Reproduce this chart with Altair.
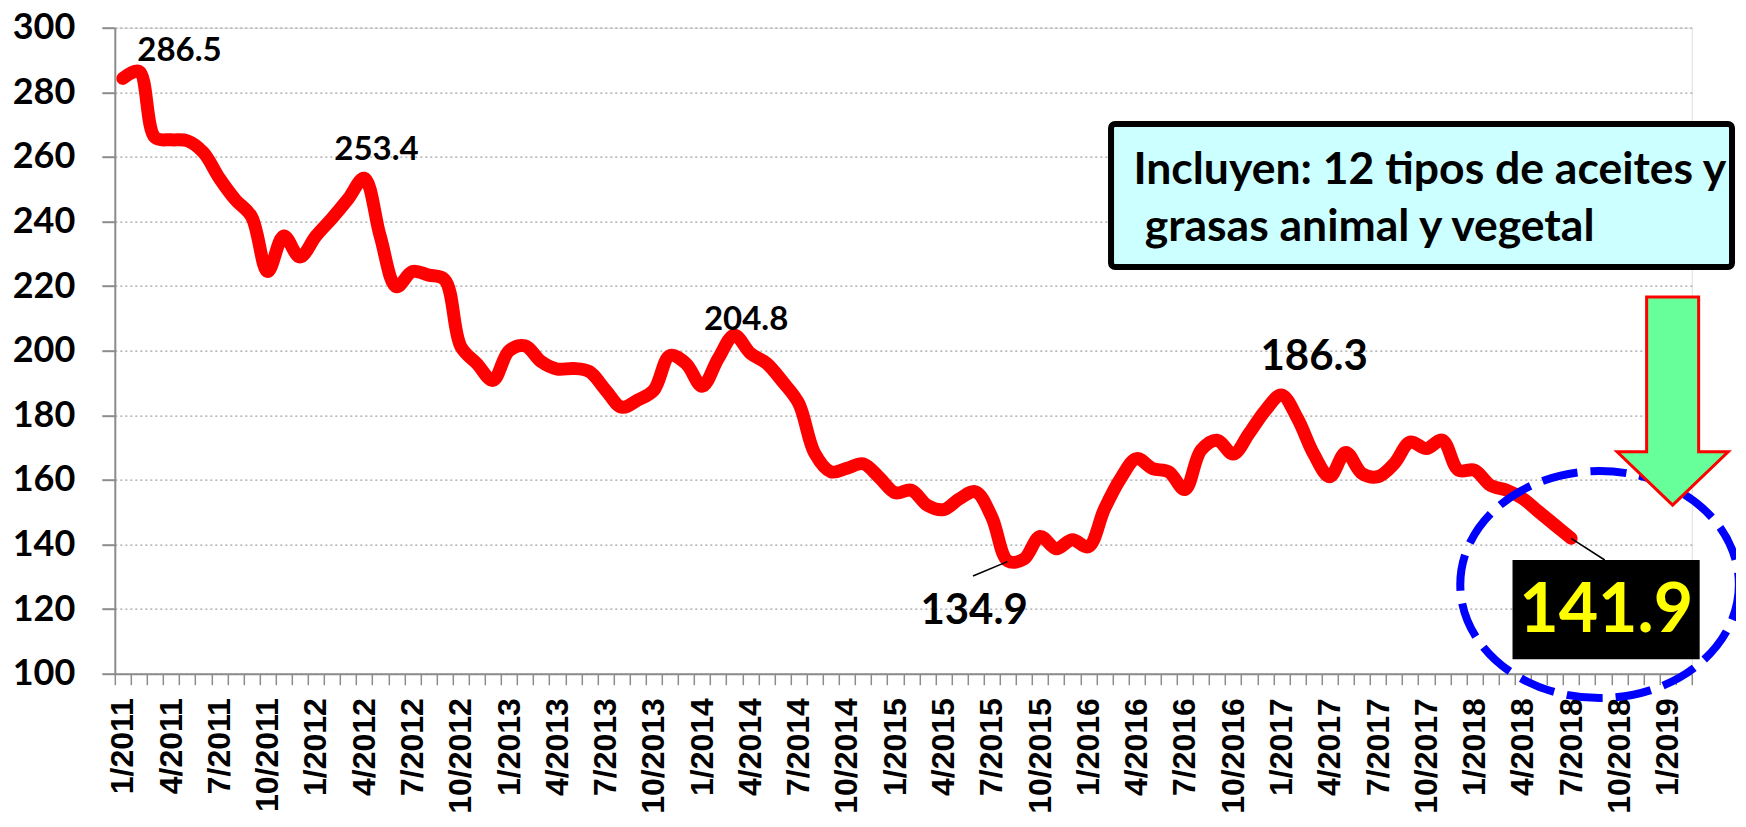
import altair as alt
import pandas as pd

# ---------------- datos ----------------
anios = list(range(2011, 2020))
meses = [f"{m}/{a}" for a in anios for m in range(1, 13)][:98]   # 1/2011 ... 2/2019

valores = [
    284.3, 286.5, 266.0, 265.3, 265.0, 261.4, 253.4, 246.7, 241.5, 224.5, 235.5, 229.0,   # 2011
    235.5, 241.0, 247.0, 253.4, 235.3, 219.8, 224.5, 223.4, 222.0, 201.3, 196.0, 190.8,   # 2012
    200.0, 201.5, 196.6, 194.3, 194.5, 193.5, 187.8, 182.5, 184.7, 187.8, 198.5, 196.0,   # 2013
    189.0, 197.6, 204.8, 199.2, 196.1, 190.4, 183.7, 168.2, 162.5, 163.6, 165.0, 160.8,   # 2014
    156.0, 156.8, 152.1, 150.8, 154.2, 156.3, 148.5, 134.9, 135.5, 142.5, 138.7, 141.5,   # 2015
    139.3, 151.0, 160.4, 166.6, 163.5, 162.5, 157.0, 169.2, 172.3, 168.0, 174.5, 181.5,   # 2016
    186.3, 179.0, 168.1, 161.0, 168.5, 162.0, 161.0, 165.0, 171.7, 169.7, 172.3, 163.0,   # 2017
    163.0, 158.3, 156.8, 154.2, 150.1, 146.0, 141.9,                                      # 2018
]

# etiquetas de datos (posición en unidades de mes / valor)
etiq_texto = ["286.5", "253.4", "204.8", "186.3", "134.9"]
etiq_u = [4.02, 16.26, 39.23, 74.53, 53.4]
etiq_v = [292.85, 262.1, 209.5, 197.9, 119.4]
etiq_tam = [33, 33, 33, 42, 42]

# líneas guía
guia_u = [53.33, 90.5]
guia_v = [130.25, 141.9]
guia_u2 = [55.47, 92.59]
guia_v2 = [134.7, 135.2]

# recuadro de texto
cuadro_u, cuadro_u2 = [61.91], [100.5]
cuadro_v, cuadro_v2 = [270.2], [225.9]
cuadro_lineas = ["Incluyen: 12 tipos de aceites y", "grasas animal y vegetal"]
cuadro_lin_u = [63.30, 64.0]
cuadro_lin_v = [251.6, 234.1]

# último valor destacado
ultimo_texto = ["141.9"]
ultimo_u, ultimo_u2 = [86.86], [98.49]
ultimo_v, ultimo_v2 = [135.2], [104.5]
ultimo_txt_u, ultimo_txt_v = [92.68], [119.0]

# elipse y flecha
elipse_u, elipse_v = [92.27], [127.6]
flecha_u, flecha_v = [96.81], [184.4]

# ---------------- gráfico ----------------
df = pd.DataFrame({"mes": meses[:len(valores)], "valor": valores})

y_axis = alt.Axis(
    title=None, values=list(range(100, 301, 20)),
    labelFont="Lato", labelFontWeight="bold", labelFontSize=36, labelColor="black",
    labelPadding=27, tickSize=13, tickColor="#8C8C8C", tickWidth=2,
    domainColor="#8C8C8C", domainWidth=2,
    grid=True, gridDash=[2, 3], gridColor="#A0A0A0", gridWidth=1.3,
)
y_scale = alt.Scale(domain=[100, 300], nice=False, zero=False)


def Y(field):
    return alt.Y(f"{field}:Q", scale=y_scale, axis=y_axis)


def Y2(field):
    return alt.Y2(f"{field}:Q")


u_scale = alt.Scale(domain=[0, 98], nice=False, zero=False)


def U(field):
    return alt.X(f"{field}:Q", scale=u_scale, axis=None)


linea = alt.Chart(df).mark_line(
    color="#FF0000", strokeWidth=13, interpolate="catmull-rom",
    strokeCap="round", strokeJoin="round",
).encode(
    x=alt.X(
        "mes:N", sort=None, bandPosition=0.5,
        scale=alt.Scale(type="band", domain=meses, paddingInner=0, paddingOuter=0),
        axis=alt.Axis(
            title=None, tickBand="extent", labelAngle=-90, labelOverlap=False,
            labelExpr="indexof(['1','4','7','10'], split(datum.label,'/')[0]) >= 0 ? datum.label : ''",
            labelFont="Liberation Sans", labelFontWeight="bold", labelFontSize=32,
            labelColor="black", labelPadding=13, tickSize=11, tickColor="#8C8C8C",
            tickWidth=1.5, domainColor="#8C8C8C", domainWidth=2, grid=False,
        ),
    ),
    y=Y("valor"),
)

guias = alt.Chart(pd.DataFrame({"u": guia_u, "v": guia_v, "u2": guia_u2, "v2": guia_v2})).mark_rule(
    color="black", strokeWidth=1.5
).encode(x=U("u"), y=Y("v"), x2="u2:Q", y2=Y2("v2"))

etiquetas = alt.Chart(pd.DataFrame({"t": etiq_texto, "u": etiq_u, "v": etiq_v, "s": etiq_tam})).mark_text(
    font="Lato", fontWeight="bold", color="black", align="center", baseline="middle"
).encode(x=U("u"), y=Y("v"), text="t:N", size=alt.Size("s:Q", scale=None, legend=None))

cuadro = alt.Chart(pd.DataFrame({"u": cuadro_u, "u2": cuadro_u2, "v": cuadro_v, "v2": cuadro_v2})).mark_rect(
    fill="#CCFFFF", stroke="black", strokeWidth=6, cornerRadius=4
).encode(x=U("u"), x2="u2:Q", y=Y("v"), y2=Y2("v2"))

cuadro_txt = alt.Chart(pd.DataFrame({"t": cuadro_lineas, "u": cuadro_lin_u, "v": cuadro_lin_v})).mark_text(
    font="Lato", fontWeight="bold", fontSize=44.5, color="black", align="left", baseline="alphabetic"
).encode(x=U("u"), y=Y("v"), text="t:N")

elipse_path = ("M 1 0 C 1 0.4501 0.5523 0.815 0 0.815 C -0.5523 0.815 -1 0.4501 -1 0 "
               "C -1 -0.4501 -0.5523 -0.815 0 -0.815 C 0.5523 -0.815 1 -0.4501 1 0 Z")
elipse = alt.Chart(pd.DataFrame({"u": elipse_u, "v": elipse_v})).mark_point(
    shape=elipse_path, size=77618, filled=False, stroke="#0000FF", strokeWidth=8,
    strokeDash=[36, 13], opacity=1,
).encode(x=U("u"), y=Y("v"))

ultimo_caja = alt.Chart(pd.DataFrame({"u": ultimo_u, "u2": ultimo_u2, "v": ultimo_v, "v2": ultimo_v2})).mark_rect(
    fill="black"
).encode(x=U("u"), x2="u2:Q", y=Y("v"), y2=Y2("v2"))

ultimo_txt = alt.Chart(pd.DataFrame({"t": ultimo_texto, "u": ultimo_txt_u, "v": ultimo_txt_v})).mark_text(
    font="Lato", fontWeight="bold", fontSize=68, color="#FFFF00", align="center", baseline="middle"
).encode(x=U("u"), y=Y("v"), text="t:N")

flecha_path = "M -0.25 -1 L 0.25 -1 L 0.25 0.4875 L 0.534 0.4875 L 0 1 L -0.534 0.4875 L -0.25 0.4875 Z"
flecha = alt.Chart(pd.DataFrame({"u": flecha_u, "v": flecha_v})).mark_point(
    shape=flecha_path, size=43264, filled=True, fill="#66FF99", stroke="#FF0000",
    strokeWidth=3, opacity=1,
).encode(x=U("u"), y=Y("v"))

chart = alt.layer(
    linea, guias, etiquetas, cuadro, cuadro_txt, elipse, ultimo_caja, ultimo_txt, flecha
).resolve_scale(x="independent").properties(
    width=1577, height=646,
    autosize=alt.AutoSizeParams(type="none"),
    padding={"left": 106.8, "top": 19.7, "right": 44.2, "bottom": 144},
).configure_view(stroke=None).configure(background="white")

chart.save("out.html", embed_options={"renderer": "svg", "actions": False})
